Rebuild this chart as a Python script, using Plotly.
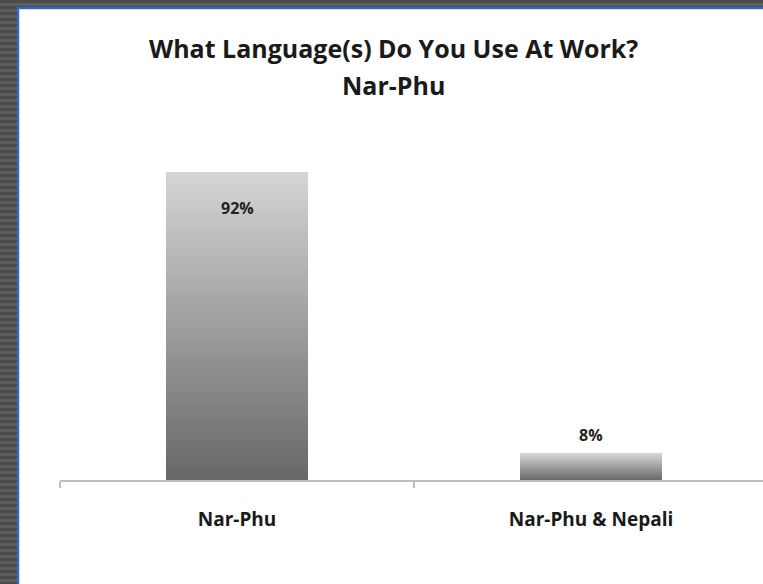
import plotly.graph_objects as go

category_labels = ["Nar-Phu", "Nar-Phu & Nepali"]
values = [92, 8]
value_labels = ["92%", "8%"]
title_lines = ["What Language(s) Do You Use At Work?", "Nar-Phu"]

W, H = 763, 584
N_STEPS = 48
top_rgb = (212, 212, 212)
bot_rgb = (104, 104, 104)

fig = go.Figure()

# Gradient bars: each bar drawn as equal stacked slices of its own value
for i in range(N_STEPS):
    t = i / (N_STEPS - 1)
    r = round(bot_rgb[0] + (top_rgb[0] - bot_rgb[0]) * t)
    g = round(bot_rgb[1] + (top_rgb[1] - bot_rgb[1]) * t)
    b = round(bot_rgb[2] + (top_rgb[2] - bot_rgb[2]) * t)
    fig.add_trace(go.Bar(
        x=category_labels,
        y=[v / N_STEPS for v in values],
        marker=dict(color=f"rgb({r},{g},{b})", line=dict(width=0)),
        showlegend=False,
        hoverinfo="skip",
    ))

# data labels
label_shift = [-36, 18]
for cat, v, lab, sh in zip(category_labels, values, value_labels, label_shift):
    fig.add_annotation(x=cat, y=v, text=f"<b>{lab}</b>", showarrow=False,
                       yshift=sh, yanchor="middle",
                       font=dict(family="Open Sans", size=16, color="#222222"))

L, R, T, B = 60, 0, 145, 104
pw, ph = W - L - R, H - T - B
def px(x):
    return (x - L) / pw
def py(y):
    return (H - B - y) / ph

shapes = []
# horizontal stripes to mimic dark textured frame
for k in range(0, H + 6, 3):
    shade = "#4b4b4b" if (k // 3) % 2 == 0 else "#5d5d5d"
    shapes.append(dict(type="rect", xref="paper", yref="paper",
                       x0=px(-5), x1=px(W + 5), y0=py(k + 3), y1=py(k),
                       fillcolor=shade, line=dict(width=0), layer="below"))
shapes.append(dict(type="rect", xref="paper", yref="paper",
                   x0=px(17), x1=px(W + 5), y0=py(H + 5), y1=py(7),
                   fillcolor="#2a6be0", line=dict(width=0), layer="below"))
shapes.append(dict(type="rect", xref="paper", yref="paper",
                   x0=px(19), x1=px(W + 5), y0=py(H + 5), y1=py(9),
                   fillcolor="#d8d8d8", line=dict(width=0), layer="below"))
shapes.append(dict(type="rect", xref="paper", yref="paper",
                   x0=px(20), x1=px(W + 5), y0=py(H + 5), y1=py(10),
                   fillcolor="#ffffff", line=dict(width=0), layer="below"))
fig.update_layout(shapes=shapes)

# title
fig.add_annotation(xref="paper", yref="paper", x=px(393), y=py(48),
                   xanchor="center", yanchor="middle",
                   text=f"<b>{title_lines[0]}</b>", showarrow=False,
                   font=dict(family="Open Sans", size=25, color="#1a1a1a"))
fig.add_annotation(xref="paper", yref="paper", x=px(393), y=py(85),
                   xanchor="center", yanchor="middle",
                   text=f"<b>{title_lines[1]}</b>", showarrow=False,
                   font=dict(family="Open Sans", size=25, color="#1a1a1a"))

fig.update_layout(
    width=W, height=H,
    margin=dict(l=L, r=R, t=T, b=B, pad=0),
    paper_bgcolor="#555555",
    plot_bgcolor="rgba(0,0,0,0)",
    barmode="stack",
    bargap=0.6,
    xaxis=dict(
        range=[-0.5, 1.5 - 5 / 354],
        showline=True, linecolor="#bdbdbd", linewidth=2,
        ticks="outside", tickson="boundaries", ticklen=6, tickcolor="#bdbdbd", tickwidth=2,
        tickfont=dict(family="Open Sans", size=19, color="#1a1a1a"),
        ticklabelstandoff=21,
        showgrid=False, zeroline=False,
        tickvals=category_labels,
        ticktext=[f"<b>{c}</b>" for c in category_labels],
    ),
    yaxis=dict(range=[0, 100], visible=False, showgrid=False, zeroline=False),
)

fig.write_html("out.html", config={"displayModeBar": False})
